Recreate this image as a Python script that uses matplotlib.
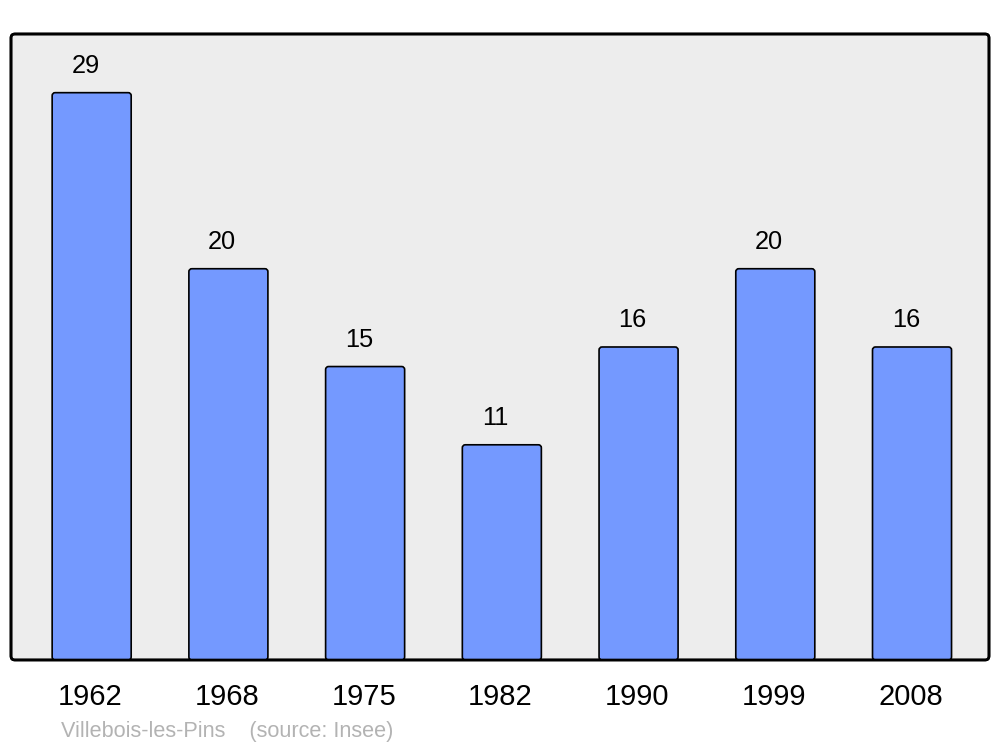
import matplotlib.pyplot as plt
from matplotlib.patches import FancyBboxPatch
import numpy as np

plt.rcParams['font.family'] = ['Liberation Sans', 'DejaVu Sans']

# données
annees = ['1962', '1968', '1975', '1982', '1990', '1999', '2008']
population = [29, 20, 15, 11, 16, 20, 16]
commune = 'Villebois-les-Pins'
source = '(source: Insee)'

fig = plt.figure(figsize=(10, 7.47), dpi=100)
ax = fig.add_axes([0.011, 0.1165, 0.978, 0.838])

x = np.arange(len(annees))
bars = ax.bar(x, population, width=0.578, color='#7499ff', edgecolor='black', linewidth=1.2)

# coins arrondis des barres
for b in bars:
    b.set_visible(False)
    p = FancyBboxPatch((b.get_x(), b.get_y()), b.get_width(), b.get_height(),
                       boxstyle='round,pad=0,rounding_size=0.022', mutation_aspect=7.0,
                       facecolor='#7499ff', edgecolor='black', linewidth=1.2, zorder=2)
    ax.add_patch(p)

for xi, v in zip(x, population):
    ax.annotate(str(v), (xi - 0.045, v), xytext=(0, 10.5), textcoords='offset points',
                ha='center', va='bottom', fontsize=18.3)

ax.set_xlim(-0.59, 6.563)
ax.set_ylim(0, 32)
ax.set_xticks(x - 0.01)
ax.set_xticklabels(annees, fontsize=21)
ax.tick_params(axis='x', length=0, pad=16.5)
ax.set_yticks([])
for s in ax.spines.values():
    s.set_visible(False)
ax.patch.set_visible(False)

# cadre arrondi
cadre = FancyBboxPatch((0, 0), 1, 1, boxstyle='round,pad=0,rounding_size=0.004',
                       mutation_aspect=978 / 626, transform=ax.transAxes,
                       facecolor='#ededed', edgecolor='black', linewidth=1.9,
                       zorder=0, clip_on=False)
ax.add_patch(cadre)
cadre2 = FancyBboxPatch((0, 0), 1, 1, boxstyle='round,pad=0,rounding_size=0.004',
                        mutation_aspect=978 / 626, transform=ax.transAxes,
                        facecolor='none', edgecolor='black', linewidth=1.9,
                        zorder=3, clip_on=False)
ax.add_patch(cadre2)

fig.text(0.061, 0.0135, commune + '    ' + source, color='#b3b3b3', fontsize=15.6,
         ha='left', va='baseline')

plt.savefig('out.png', dpi=100)
